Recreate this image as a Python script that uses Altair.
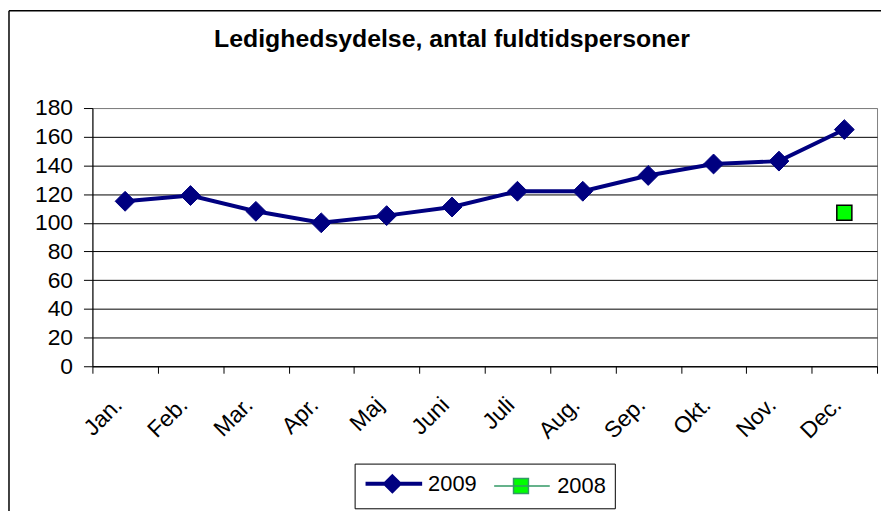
import altair as alt
import pandas as pd

# ---- data ----
months = ["Jan.", "Feb.", "Mar.", "Apr.", "Maj", "Juni", "Juli", "Aug.", "Sep.", "Okt.", "Nov.", "Dec."]
values_2009 = [115, 119, 108, 100, 105, 111, 122, 122, 133, 141, 143, 165]
values_2008 = [None, None, None, None, None, None, None, None, None, None, None, 107]
series_names = ["2009", "2008"]
y_ticks = [0, 20, 40, 60, 80, 100, 120, 140, 160, 180]
title_text = "Ledighedsydelse, antal fuldtidspersoner"

rows = []
for m, v in zip(months, values_2009):
    rows.append({"month": m, "series": "2009", "value": v})
for m, v in zip(months, values_2008):
    if v is not None:
        rows.append({"month": m, "series": "2008", "value": v})
df = pd.DataFrame(rows)

FONT = "Liberation Sans"
NAVY = "#000080"
LIME = "#00FF00"

x_enc = alt.X(
    "month:O",
    bandPosition=0.5,
    scale=alt.Scale(type="band", domain=months, paddingInner=0, paddingOuter=0),
    axis=alt.Axis(
        title=None, labelAngle=315, labelAlign="right", labelBaseline="middle",
        labelFontSize=23, labelFont=FONT, labelColor="black", labelPadding=28,
        labelOffset=-7,
        tickBand="extent", ticks=True, tickSize=7, tickColor="black",
        domainColor="black", grid=False, labelOverlap=False,
    ),
)
y_enc = alt.Y(
    "value:Q",
    scale=alt.Scale(domain=[0, 180], nice=False),
    axis=alt.Axis(
        title=None, values=y_ticks, labelFontSize=23, labelFont=FONT,
        labelColor="black", tickSize=9, tickColor="black", labelPadding=11,
        domainColor="black", grid=True,
        gridColor={"condition": {"test": "datum.value == 180", "value": "#808080"}, "value": "black"},
    ),
)

base = alt.Chart(df)

line = base.transform_filter("datum.series == '2009'").mark_line(
    color=NAVY, strokeWidth=4
).encode(x=x_enc, y=y_enc)

pts09 = base.transform_filter("datum.series == '2009'").mark_point(
    shape="diamond", filled=True, fill=NAVY, stroke=NAVY, strokeWidth=1, size=400, opacity=1
).encode(x=x_enc, y=y_enc)

pts08 = base.transform_filter("datum.series == '2008'").mark_point(
    shape="square", filled=True, fill=LIME, stroke="black", strokeWidth=1.5, size=230, opacity=1
).encode(x=x_enc, y=y_enc)

# legend-only layer (draws nothing, supplies the legend)
p2009 = "M-1.8,0H9.6M3.6,-1.45L5.05,0L3.6,1.45L2.15,0Z"
p2008 = "M-1.9,0H9.3M2,-1.5H5V1.5H2Z"
legend_layer = base.transform_filter("false").mark_point(filled=True, opacity=1).encode(
    shape=alt.Shape("series:N", title=None, scale=alt.Scale(domain=series_names, range=[p2009, p2008])),
    fill=alt.Fill("series:N", title=None, scale=alt.Scale(domain=series_names, range=[NAVY, LIME])),
    stroke=alt.Stroke("series:N", title=None, scale=alt.Scale(domain=series_names, range=[NAVY, "#339966"])),
    strokeWidth=alt.StrokeWidth("series:N", title=None, scale=alt.Scale(domain=series_names, range=[4, 1.5])),
)

frame_left = alt.Chart(alt.Data(values=[{}])).mark_rule(color="black", strokeWidth=1.5).encode(
    x=alt.value(-84), y=alt.value(-98), y2=alt.value(420)
)
frame_top = alt.Chart(alt.Data(values=[{}])).mark_rule(color="black", strokeWidth=1.5).encode(
    x=alt.value(-84), x2=alt.value(820), y=alt.value(-98)
)

chart = alt.layer(frame_left, frame_top, line, pts09, pts08, legend_layer).properties(
    width=790,
    height=260,
    autosize=alt.AutoSizeParams(type="none"),
    padding={"left": 85, "top": 99, "right": 4, "bottom": 144},
    title=alt.TitleParams(
        text=title_text, fontSize=25, font=FONT, fontWeight="bold", color="black",
        anchor="middle", dx=-33, offset=-62, baseline="alphabetic",
    ),
).configure_view(
    fill="#C0C0C0", stroke="#808080", strokeWidth=1
).configure_legend(
    orient="none", legendX=264, legendY=358, direction="horizontal", columns=2,
    padding=9, strokeColor="black", fillColor="white", labelFontSize=22,
    labelFont=FONT, labelColor="black", labelOffset=43, columnPadding=14,
    symbolSize=100, cornerRadius=0, labelLimit=200,
)

chart.save("out.html", embed_options={"renderer": "svg", "actions": False})
